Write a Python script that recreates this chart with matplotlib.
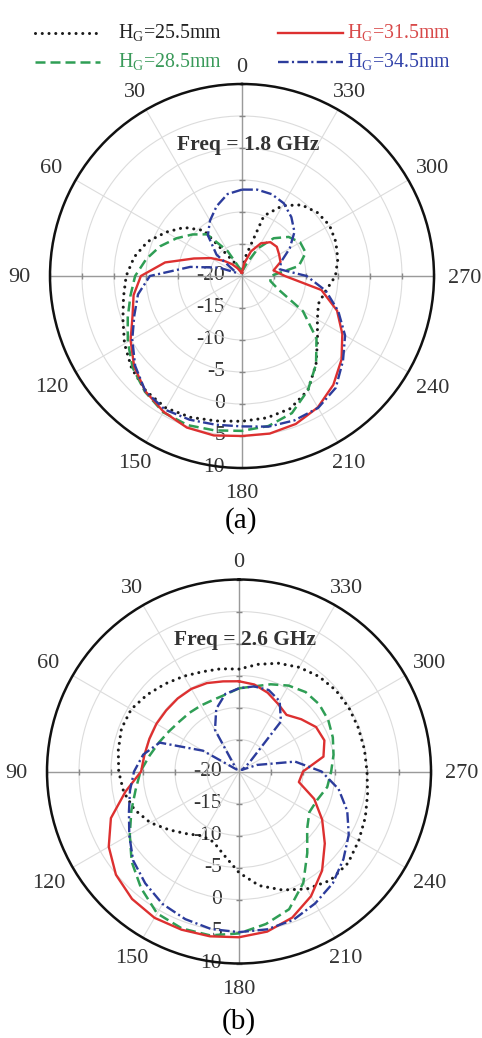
import numpy as np
import matplotlib.pyplot as plt
from matplotlib.lines import Line2D
import matplotlib.transforms as mtransforms

plt.rcParams['font.family'] = ['Liberation Serif', 'DejaVu Serif']
plt.rcParams['mathtext.fontset'] = 'custom'
plt.rcParams['mathtext.rm'] = 'Liberation Serif'

# pattern angles (deg), 0 at top, counter-clockwise
angles = np.arange(0, 360, 10)

# (a) Freq = 1.8 GHz, gain in dB
hg255_a = [-19.5, -19.5, -19.0, -17.5, -10.7, -8.2, -6.3, -4.3, -2.9, -1.9,
           -1.2, -0.2, 1.2, 2.5, 3.4, 3.8, 3.5, 3.0, 2.7,
           2.5, 2.05, 0.6, -2.0, -4.6, -6.4, -7.3, -6.7, -5.4,
           -4.8, -4.4, -4.2, -4.6, -5.5, -7.3, -10.0, -17.0]
hg285_a = [-19.0, -19.0, -18.5, -15.5, -11.5, -9.9, -8.2, -6.4, -4.8, -3.3,
           -2.3, -1.0, 0.6, 2.3, 3.6, 4.6, 4.8, 4.5, 4.2,
           3.8, 2.8, 0.6, -2.0, -4.8, -9.0, -14.0, -15.5, -15.5,
           -11.0, -9.4, -9.5, -10.5, -12.3, -15.0, -18.0, -19.0]
hg315_a = [-19.5, -19.5, -19.2, -18.6, -17.6, -16.3, -14.4, -12.0, -7.8, -4.2,
           -2.8, -1.8, 0.1, 2.0, 3.5, 4.5, 5.2, 5.3, 5.0,
           5.0, 4.6, 3.7, 2.2, 0.3, -1.9, -4.2, -7.4, -13.3,
           -15.0, -13.6, -13.3, -12.9, -13.1, -14.1, -15.9, -18.0]
hg345_a = [-6.5, -7.0, -8.4, -10.0, -11.7, -14.8, -19.0, -16.2, -11.8, -5.6,
           -3.5, -2.1, -0.2, 1.8, 3.5, 4.1, 3.9, 3.6, 3.5,
           3.9, 4.0, 3.8, 2.8, 0.6, -1.4, -4.0, -6.7, -9.9,
           -14.0, -13.5, -11.4, -9.3, -8.0, -6.9, -6.4, -6.3]

# (b) Freq = 2.6 GHz, gain in dB
hg255_b = [-4.0, -3.7, -3.4, -2.8, -2.1, -1.3, -0.55, -0.45, -0.85, -1.2,
           -1.7, -2.6, -4.0, -5.8, -7.3, -8.4, -8.3, -6.7, -4.2,
           -1.9, -0.3, 1.2, 2.2, 2.25, 1.6, 1.0, 0.4, 0.0,
           -0.1, -0.15, -0.15, -0.25, -0.6, -1.2, -2.0, -3.0]
hg285_b = [-7.0, -7.8, -8.1, -8.1, -8.0, -7.85, -7.4, -6.7, -5.8, -4.6,
           -3.6, -2.1, -0.3, 1.9, 3.8, 5.6, 6.1, 6.0, 5.3,
           4.2, 2.9, 0.1, -3.4, -6.1, -7.3, -7.0, -6.0, -5.6,
           -5.0, -4.4, -3.9, -3.65, -3.8, -4.5, -5.5, -6.5]
hg315_b = [-5.9, -5.7, -5.3, -5.1, -5.1, -5.15, -5.1, -5.1, -5.0, -4.7,
           -2.0, 1.3, 3.5, 5.1, 6.0, 6.4, 6.3, 6.15, 5.9,
           5.4, 4.3, 2.5, 0.2, -2.5, -5.0, -7.5, -10.5, -10.0,
           -6.6, -5.8, -6.1, -7.3, -8.45, -7.8, -6.9, -6.2]
hg345_b = [-7.0, -7.7, -9.6, -12.5, -19.0, -19.5, -13.5, -6.8, -4.8, -3.6,
           -2.7, -1.7, -0.2, 1.6, 2.8, 3.9, 4.55, 5.0, 5.1,
           5.05, 4.7, 3.8, 2.8, 1.3, -0.2, -2.0, -4.2, -7.1,
           -11.1, -17.0, -19.5, -18.0, -9.8, -7.3, -6.45, -6.5]

labels = ['H$_\\mathregular{G}$=25.5mm', 'H$_\\mathregular{G}$=28.5mm',
          'H$_\\mathregular{G}$=31.5mm', 'H$_\\mathregular{G}$=34.5mm']
colors = ['#1a1a1a', '#2f9e55', '#dd3030', '#2c3c9c']
text_colors = ['#222222', '#3a9a5a', '#d84a4a', '#3344aa']
styles = [dict(ls=(0, (0.01, 2.2)), lw=2.2, dash_capstyle='round'),
          dict(ls=(0, (4, 2)), lw=1.8),
          dict(ls='-', lw=1.7),
          dict(ls=(0, (4.5, 1.4, 0.9, 1.4)), lw=1.7)]

W, H = 482, 1038
fig = plt.figure(figsize=(W / 100, H / 100), dpi=100)


def panel(cx, cy, R, series, freq):
    ax = fig.add_axes([(cx - R) / W, 1 - (cy + R) / H, 2 * R / W, 2 * R / H],
                      projection='polar')
    ax.set_theta_zero_location('N')
    ax.set_theta_direction(1)
    ax.set_ylim(-20, 10)
    ax.set_yticks([-15, -10, -5, 0, 5])
    ax.set_yticklabels([])
    ax.set_thetagrids(np.arange(0, 360, 30), [''] * 12)
    ax.grid(color='#dcdcdc', lw=0.8)
    ax.spines['polar'].set_color('#111111')
    ax.spines['polar'].set_linewidth(1.8)

    # angle labels around the rim
    for a in range(0, 360, 30):
        t = np.deg2rad(a)
        ux, uy = -np.sin(t), np.cos(t)
        dist = R + 19 + 12 * ux ** 2 + (5 if a == 180 else 0)
        ax.text(0.5 + dist * ux / (2 * R), 0.5 + (dist * uy - 2) / (2 * R), str(a),
                transform=ax.transAxes, ha='center', va='center',
                fontsize=16, color='#333333')

    # main cross lines and ring ticks
    for t in (0, 90):
        tr = np.deg2rad(t)
        ax.plot([tr, tr, tr + np.pi, tr + np.pi], [10, -20, -20, 10],
                color='#9a9a9a', lw=1.0, zorder=2)
    rings = [-15, -10, -5, 0, 5, 10]
    for t, m in ((0, '_'), (180, '_'), (90, '|'), (270, '|')):
        ax.plot([np.deg2rad(t)] * len(rings), rings, ls='none', marker=m,
                ms=5, mew=1.0, color='#888888', zorder=2, clip_on=False)

    off = mtransforms.offset_copy(ax.transData, fig=fig, x=-17, y=0, units='dots')
    for r in [-20, -15, -10, -5, 0, 5, 10]:
        ax.text(np.pi, r, str(r), transform=off, ha='right', va='center',
                fontsize=15.5, color='#333333', zorder=1.5)

    th = np.deg2rad(np.append(angles, angles[0]))
    for vals, c, st in zip(series, colors, styles):
        v = np.append(vals, vals[0])
        ax.plot(th, v, color=c, zorder=3, **st)

    ax.text(0.5 + 6 / (2 * R), 0.5 + 131 / (2 * R), freq, transform=ax.transAxes,
            ha='center', va='center', fontsize=15.5, fontweight='bold',
            color='#333333', zorder=4)
    return ax


panel(242, 276, 192, [hg255_a, hg285_a, hg315_a, hg345_a], 'Freq = 1.8 GHz')
panel(239, 771.5, 192, [hg255_b, hg285_b, hg315_b, hg345_b], 'Freq = 2.6 GHz')

# legend drawn at the top
rows = [(33, 0), (33, 2), (62, 1), (62, 3)]
for (y, i) in rows:
    x0 = 35 if i in (0, 1) else 278
    fig.add_artist(Line2D([x0 / W, (x0 + 65) / W], [1 - y / H, 1 - y / H],
                          transform=fig.transFigure, color=colors[i], **styles[i]))
    fig.text((x0 + 83 if i in (0, 1) else x0 + 69) / W, 1 - y / H, labels[i],
             ha='left', va='center', fontsize=14.3, color=text_colors[i])

fig.text(241 / W, 1 - 521 / H, '(a)', ha='center', va='center', fontsize=21)
fig.text(239 / W, 1 - 1022 / H, '(b)', ha='center', va='center', fontsize=21)

fig.savefig('out.png', dpi=100, facecolor='white')
